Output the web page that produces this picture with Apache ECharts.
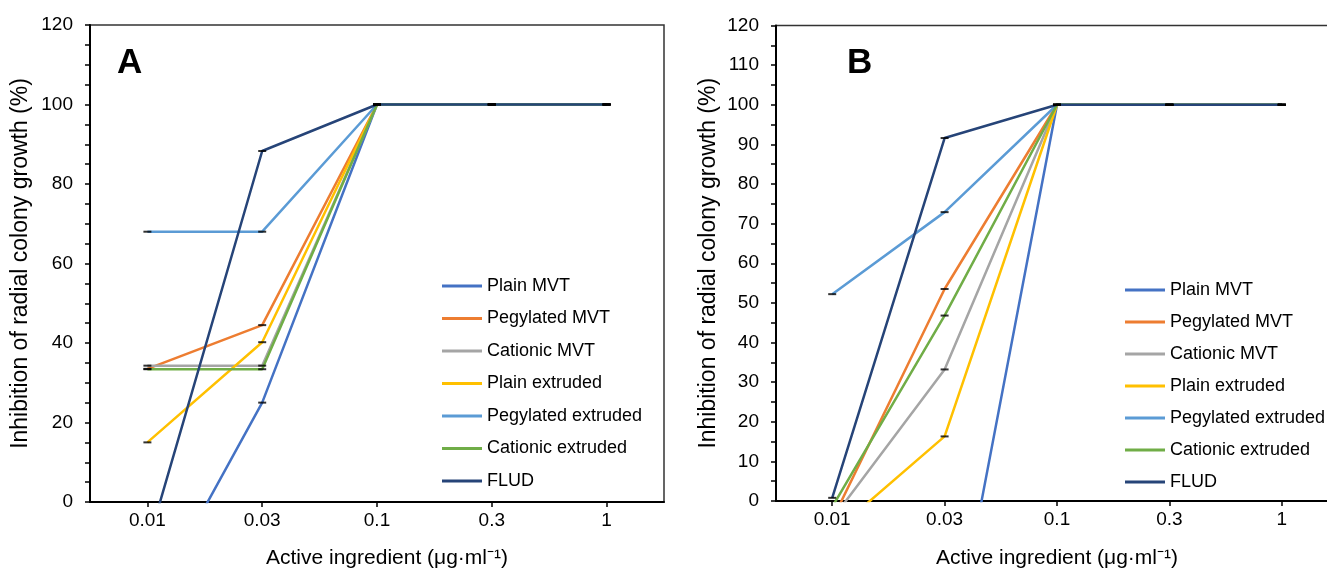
<!DOCTYPE html>
<html>
<head>
<meta charset="utf-8">
<script src="https://cdn.jsdelivr.net/npm/echarts@6/dist/echarts.min.js"></script>
<style>
  html, body { margin: 0; padding: 0; background: #fff; overflow: hidden; }
  #chart { width: 1342px; height: 574px; }
</style>
</head>
<body>
<div id="chart"></div>
<script>
// categories (x axis)
const doses = ['0.01', '0.03', '0.1', '0.3', '1'];
const seriesNames = ['Plain MVT', 'Pegylated MVT', 'Cationic MVT', 'Plain extruded', 'Pegylated extruded', 'Cationic extruded', 'FLUD'];
const colors = ['#4472C4', '#ED7D31', '#A5A5A5', '#FFC000', '#5B9BD5', '#70AD47', '#264478'];

// panel A values (negative = below the plotted range)
const plainMvtA = [-27.6, 25, 100, 100, 100];
const pegMvtA = [33.5, 44.5, 100, 100, 100];
const catMvtA = [34.3, 34.3, 100, 100, 100];
const plainExtA = [15, 40.2, 100, 100, 100];
const pegExtA = [68, 68, 100, 100, 100];
const catExtA = [33.4, 33.4, 100, 100, 100];
const fludA = [-10.9, 88.3, 100, 100, 100];

// panel B values
const plainMvtB = [-50, -49, 100, 100, 100];
const pegMvtB = [-4.8, 53.5, 100, 100, 100];
const catMvtB = [-4.6, 33.2, 100, 100, 100];
const plainExtB = [-8.2, 16.3, 100, 100, 100];
const pegExtB = [52.2, 72.9, 100, 100, 100];
const catExtB = [-1.5, 46.8, 100, 100, 100];
const fludB = [0.8, 91.6, 100, 100, 100];

const panelA = [plainMvtA, pegMvtA, catMvtA, plainExtA, pegExtA, catExtA, fludA];
const panelB = [plainMvtB, pegMvtB, catMvtB, plainExtB, pegExtB, catExtB, fludB];

const font = 'Liberation Sans, Arial, sans-serif';

function makeSeries(panel, idx) {
  let out = [];
  panel.forEach(function (vals, j) {
    out.push({
      name: seriesNames[j],
      type: 'line',
      xAxisIndex: idx,
      yAxisIndex: idx,
      data: vals,
      symbol: 'none',
      color: colors[j],
      lineStyle: { width: 2.5, color: colors[j] },
      z: 2 + j * 0.01,
      animation: false
    });
  });
  // error-bar caps
  panel.forEach(function (vals, j) {
    out.push({
      name: 'cap' + idx + '_' + j,
      type: 'scatter',
      xAxisIndex: idx,
      yAxisIndex: idx,
      data: vals,
      symbol: 'rect',
      symbolSize: [8, 2],
      itemStyle: { color: '#000' },
      clip: true,
      silent: true,
      z: 4,
      animation: false
    });
  });
  return out;
}

function yAxis(idx, interval, minorSplit, gap) {
  return {
    type: 'value',
    gridIndex: idx,
    min: 0,
    max: 120,
    interval: interval,
    name: 'Inhibition of radial colony growth (%)',
    nameLocation: 'middle',
    nameGap: gap,
    nameTextStyle: { fontFamily: font, fontSize: 23, color: '#000' },
    axisLine: { show: true, lineStyle: { color: '#000', width: 2 } },
    axisTick: { show: true, length: 5, lineStyle: { color: '#000', width: 1.5 } },
    minorTick: { show: true, splitNumber: minorSplit, length: 5, lineStyle: { color: '#000', width: 1.5 } },
    splitLine: { show: false },
    axisLabel: { fontFamily: font, fontSize: 19, color: '#000', margin: 17 }
  };
}

function xAxis(idx, gap, shift) {
  return {
    type: 'category',
    gridIndex: idx,
    data: doses,
    boundaryGap: true,
    name: 'Active ingredient (μg·ml⁻¹)',
    nameLocation: 'middle',
    nameGap: gap,
    nameTextStyle: { fontFamily: font, fontSize: 21, color: '#000', padding: [0, 0, 0, shift] },
    axisLine: { show: true, lineStyle: { color: '#000', width: 2 } },
    axisTick: { show: true, alignWithLabel: true, length: 5, lineStyle: { color: '#000', width: 1.5 } },
    splitLine: { show: false },
    axisLabel: { fontFamily: font, fontSize: 19, color: '#000', margin: 9 }
  };
}

function legend(left, top, gap) {
  return {
    orient: 'vertical',
    left: left,
    top: top,
    data: seriesNames,
    icon: 'rect',
    itemWidth: 40,
    itemHeight: 3,
    itemGap: gap,
    selectedMode: false,
    textStyle: { fontFamily: font, fontSize: 18, color: '#000' }
  };
}

let chart = echarts.init(document.getElementById('chart'));
chart.setOption({
  backgroundColor: '#fff',
  animation: false,
  title: [
    { text: 'A', left: 112, top: 41, textStyle: { fontFamily: font, fontSize: 35, fontWeight: 'bold', color: '#000' } },
    { text: 'B', left: 842, top: 41, textStyle: { fontFamily: font, fontSize: 35, fontWeight: 'bold', color: '#000' } }
  ],
  grid: [
    { left: 90, top: 25, width: 574, height: 480, show: true, borderColor: '#333', borderWidth: 1.5, containLabel: false },
    { left: 776, top: 25.5, width: 562, height: 481, show: true, borderColor: '#333', borderWidth: 1.5, containLabel: false }
  ],
  xAxis: [xAxis(0, 46, 20), xAxis(1, 47, 0)],
  yAxis: [yAxis(0, 20, 4, 58), yAxis(1, 10, 2, 56)],
  legend: [legend(437, 272, 14.5), legend(1120, 276, 14)],
  series: makeSeries(panelA, 0).concat(makeSeries(panelB, 1))
});
</script>
</body>
</html>
